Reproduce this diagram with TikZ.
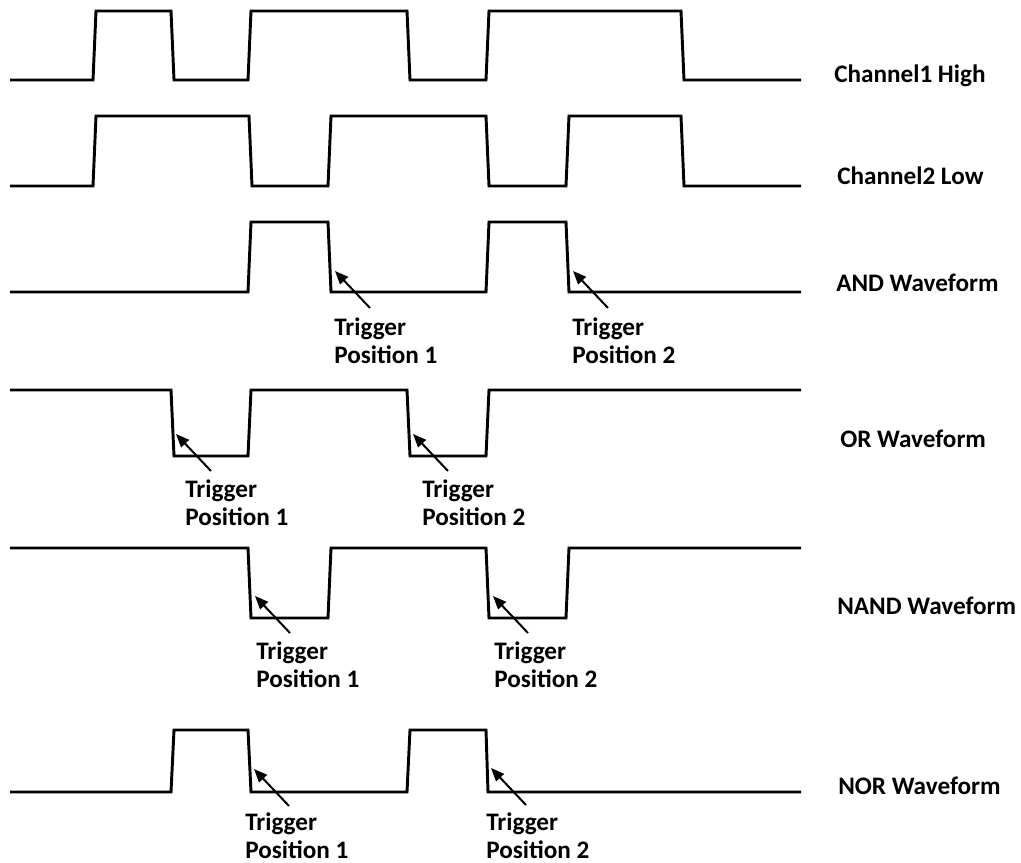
\documentclass[tikz,border=0pt]{standalone}
\usepackage{fontspec}
\setmainfont{Carlito}
\usetikzlibrary{arrows.meta}
\tikzset{
  wave/.style={line width=2.2pt, line join=miter},
  trig/.style={line width=1.5pt, -{Triangle[length=10pt,width=8pt]}},
  lbl/.style={anchor=base west, inner sep=0pt, font=\fontsize{18.9}{21}\selectfont\bfseries},
}
\begin{document}
\begin{tikzpicture}[x=0.75pt,y=-0.75pt]
\useasboundingbox[fill=white] (0,0) rectangle (1021,863);
% waveforms
\draw[wave] (10,80) -- (93,80) -- (96,11) -- (171,11) -- (174,80) -- (248,80) -- (251,11) -- (407,11) -- (410,80) -- (486,80) -- (489,11) -- (681,11) -- (684,80) -- (801,80);
\draw[wave] (10,186) -- (93,186) -- (96,116) -- (249,116) -- (252,186) -- (328,186) -- (331,116) -- (486,116) -- (489,186) -- (566,186) -- (569,116) -- (681,116) -- (684,186) -- (801,186);
\draw[wave] (10,292) -- (248,292) -- (251,222) -- (328,222) -- (331,292) -- (486,292) -- (489,222) -- (566,222) -- (569,292) -- (801,292);
\draw[wave] (10,390) -- (171,390) -- (174,456) -- (248,456) -- (251,390) -- (407,390) -- (410,456) -- (486,456) -- (489,390) -- (801,390);
\draw[wave] (10,548) -- (248,548) -- (251,618) -- (328,618) -- (331,548) -- (486,548) -- (489,618) -- (566,618) -- (569,548) -- (801,548);
\draw[wave] (10,792) -- (171,792) -- (174,730) -- (248,730) -- (251,792) -- (407,792) -- (410,730) -- (486,730) -- (488,792) -- (801,792);
% right labels
\node[lbl] (l1) at (834,83) {Channel1 High};
\node[lbl] (l2) at (837,185) {Channel2 Low};
\node[lbl] (l3) at (836,291) {AND Waveform};
\node[lbl] (l4) at (840,447) {OR Waveform};
\node[lbl] (l5) at (837,614) {NAND Waveform};
\node[lbl] (l6) at (838,794) {NOR Waveform};
% trigger arrows
\coordinate (a1h) at (335,271); \coordinate (a1t) at (370,308);
\coordinate (a2h) at (573,271); \coordinate (a2t) at (608,308);
\coordinate (o1h) at (176,434); \coordinate (o1t) at (211,471);
\coordinate (o2h) at (413,434); \coordinate (o2t) at (448,471);
\coordinate (n1h) at (255,596); \coordinate (n1t) at (290,633);
\coordinate (n2h) at (493,596); \coordinate (n2t) at (528,633);
\coordinate (r1h) at (254,769); \coordinate (r1t) at (289,806);
\coordinate (r2h) at (491,768); \coordinate (r2t) at (526,805);
\foreach \a in {a1,a2,o1,o2,n1,n2,r1,r2} \draw[trig] (\a t) -- (\a h);
% trigger labels
\node[lbl] (ta1) at (334,335) {Trigger};   \node[lbl] (pa1) at (334,363) {Position 1};
\node[lbl] (ta2) at (572,335) {Trigger};   \node[lbl] (pa2) at (572,363) {Position 2};
\node[lbl] (to1) at (185,497) {Trigger};   \node[lbl] (po1) at (185,525) {Position 1};
\node[lbl] (to2) at (422,497) {Trigger};   \node[lbl] (po2) at (422,525) {Position 2};
\node[lbl] (tn1) at (256,659) {Trigger};   \node[lbl] (pn1) at (256,687) {Position 1};
\node[lbl] (tn2) at (494,659) {Trigger};   \node[lbl] (pn2) at (494,687) {Position 2};
\node[lbl] (tr1) at (245,830) {Trigger};   \node[lbl] (pr1) at (245,858) {Position 1};
\node[lbl] (tr2) at (486,830) {Trigger};   \node[lbl] (pr2) at (486,858) {Position 2};
\end{tikzpicture}
\end{document}
